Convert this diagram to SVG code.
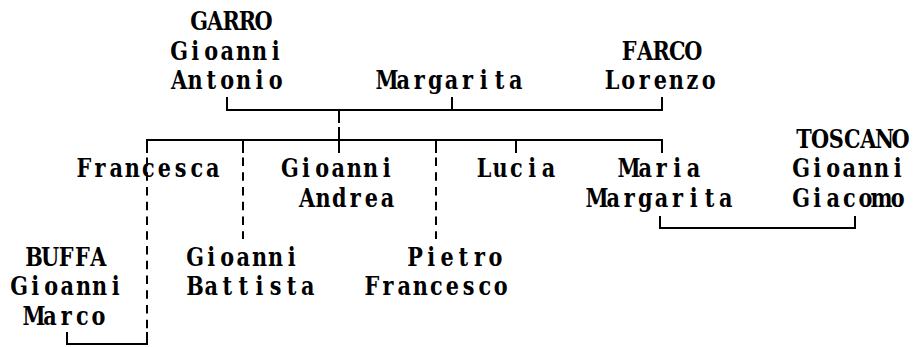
<svg xmlns="http://www.w3.org/2000/svg" width="913" height="347" viewBox="0 0 913 347">
<style>
text{font-family:"DejaVu Serif","Liberation Serif",serif;font-size:26px;font-weight:bold;fill:#000;text-anchor:middle}
.ln{stroke:#000;stroke-width:2;fill:none}
.dash{stroke:#000;stroke-width:2;fill:none;stroke-dasharray:8.5 6.25}
</style>
<rect width="913" height="347" fill="#fff"/>
<g id="connectors">
<path class="ln" d="M227,97V110H662V97M452,97V110"/>
<path class="ln" d="M339,110V123M339,127V153"/>
<path class="ln" d="M147,153V140H662V153M243,140V153M436,140V153M516,140V153"/>
<path class="ln" d="M660,216V228H855V216"/>
<path class="ln" d="M67,332V344H147V332"/>
<path class="dash" d="M147,157.5V329M243,157.5V239M436,157.5V239"/>
</g>
<g transform="scale(0.8 1)">
<g id="garro">
<text x="248.8 268.9 289 309.1 329.3" y="30">GARRO</text>
<text x="223.8 243.9 264 284.1 304.3 324.4 344.5" y="60">Gioanni</text>
<text x="223.8 243.9 264 284.1 304.3 324.4 344.5" y="89.5">Antonio</text>
</g>
<g id="margarita">
<text x="483.8 503.9 524 544.1 564.3 584.4 604.5 624.6 644.8" y="89.5">Margarita</text>
</g>
<g id="farco">
<text x="786.3 806.4 826.5 846.6 866.8" y="60">FARCO</text>
<text x="765 785.1 805.3 825.4 845.5 865.6 885.8" y="89.5">Lorenzo</text>
</g>
<g id="francesca">
<text x="105 125.1 145.3 165.4 185.5 205.6 225.8 245.9 266" y="177.5">Francesca</text>
</g>
<g id="gioanni-andrea">
<text x="362.5 382.6 402.8 422.9 443 463.1 483.3" y="177.5">Gioanni</text>
<text x="383.8 403.9 424 444.1 464.3 484.4" y="207">Andrea</text>
</g>
<g id="lucia">
<text x="605 625.1 645.3 665.4 685.5" y="177.5">Lucia</text>
</g>
<g id="maria-margarita">
<text x="786.3 806.4 826.5 846.6 866.8" y="177.5">Maria</text>
<text x="746.3 766.4 786.5 806.6 826.8 846.9 867 887.1 907.3" y="207">Margarita</text>
</g>
<g id="toscano">
<text x="1005 1025.1 1045.3 1065.4 1085.5 1105.6 1125.8" y="148">TOSCANO</text>
<text x="1001.3 1021.4 1041.5 1061.6 1081.8 1101.9 1122" y="177.5">Gioanni</text>
<text x="1001.3 1021.4 1041.5 1061.6 1081.8 1101.9 1122" y="207">Giacomo</text>
</g>
<g id="buffa">
<text x="42.5 62.6 82.8 102.9 123" y="266">BUFFA</text>
<text x="23.8 43.9 64 84.1 104.3 124.4 144.5" y="295.5">Gioanni</text>
<text x="42.5 62.6 82.8 102.9 123" y="325">Marco</text>
</g>
<g id="gioanni-battista">
<text x="243.8 263.9 284 304.1 324.3 344.4 364.5" y="266">Gioanni</text>
<text x="243.8 263.9 284 304.1 324.3 344.4 364.5 384.6" y="295.5">Battista</text>
</g>
<g id="pietro-francesco">
<text x="518.8 538.9 559 579.1 599.3 619.4" y="266">Pietro</text>
<text x="465 485.1 505.3 525.4 545.5 565.6 585.8 605.9 626" y="295.5">Francesco</text>
</g>
</g>
</svg>
